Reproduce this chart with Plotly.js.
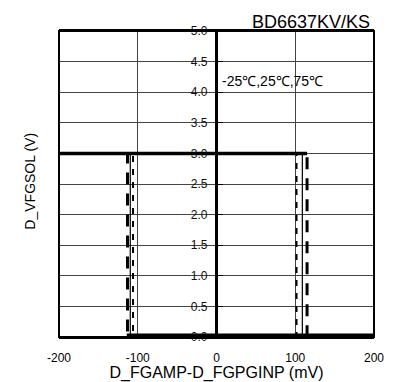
<!DOCTYPE html>
<html>
<head>
<meta charset="utf-8">
<script src="https://cdn.plot.ly/plotly-3.0.1.min.js"></script>
<style>html,body{margin:0;padding:0;background:#fff;}#chart{width:397px;height:382px;}</style>
</head>
<body>
<div id="chart"></div>
<script>
// Hysteresis sweeps (mV input, V output) for three temperatures
const xTicks = [-200, -100, 0, 100, 200];
const yTicks = [0.0, 0.5, 1.0, 1.5, 2.0, 2.5, 3.0, 3.5, 4.0, 4.5, 5.0];

// sweep up then (after null) sweep down
const sweepA_x = [-200, 109, 109, 200, null, 200, -109.5, -109.5, -200];
const sweepA_y = [3.0, 3.0, 0.0, 0.0, null, 0.0, 0.0, 3.0, 3.0];
const sweepB_x = [-200, 101.6, 101.6, 200, null, 200, -106, -106, -200];
const sweepB_y = [3.0, 3.0, 0.0, 0.0, null, 0.0, 0.0, 3.0, 3.0];
const sweepC_x = [-200, 115, 115, 200, null, 200, -113, -113, -200];
const sweepC_y = [3.0, 3.0, 0.0, 0.0, null, 0.0, 0.0, 3.0, 3.0];
// overlapping output levels (high from left edge to widest upper threshold, low from widest lower threshold)
const highLevel_x = [-200, 115];
const highLevel_y = [3.0, 3.0];
const lowLevel_x = [-114, 200];
const lowLevel_y = [0.0, 0.0];

const FONT = 'Liberation Sans, Arial, sans-serif';

const traces = [
  {x: sweepA_x, y: sweepA_y, mode: 'lines', line: {color: '#000', width: 1.2}, connectgaps: false, hoverinfo: 'skip'},
  {x: sweepB_x, y: sweepB_y, mode: 'lines', line: {color: '#000', width: 2, dash: '6px,7px'}, connectgaps: false, hoverinfo: 'skip'},
  {x: sweepC_x, y: sweepC_y, mode: 'lines', line: {color: '#000', width: 3, dash: '12px,9px'}, connectgaps: false, hoverinfo: 'skip'},
  {x: highLevel_x, y: highLevel_y, mode: 'lines', line: {color: '#000', width: 3.5}, hoverinfo: 'skip'},
  {x: lowLevel_x, y: lowLevel_y, mode: 'lines', line: {color: '#000', width: 7}, hoverinfo: 'skip'}
];

const layout = {
  width: 397, height: 382,
  margin: {l: 59, r: 23, t: 31, b: 45, pad: 0},
  paper_bgcolor: '#fff', plot_bgcolor: '#fff',
  showlegend: false,
  font: {family: FONT, color: '#000'},
  xaxis: {
    range: [-200, 200], tickvals: xTicks, ticktext: xTicks.map(String),
    showgrid: true, gridcolor: '#444', gridwidth: 1,
    zeroline: true, zerolinecolor: '#000', zerolinewidth: 2.5,
    showline: true, linecolor: '#000', linewidth: 2, mirror: true,
    ticks: '', tickfont: {size: 12, color: '#000', family: FONT},
    ticklabelstandoff: 9,
    title: {text: 'D_FGAMP-D_FGPGINP (mV)', font: {size: 16, family: FONT, color: '#000'}, standoff: 1},
    automargin: false, fixedrange: true
  },
  yaxis: {
    range: [0, 5], tickvals: yTicks, ticktext: yTicks.map(v => v.toFixed(1)),
    anchor: 'free', position: 0.5,
    showgrid: true, gridcolor: '#444', gridwidth: 1,
    zeroline: false, showline: false,
    ticks: 'inside', ticklen: 5, tickwidth: 1, tickcolor: '#000',
    tickfont: {size: 12, color: '#111', family: FONT},
    ticklabelstandoff: 9,
    automargin: false, fixedrange: true
  },
  shapes: [
    {type: 'rect', xref: 'paper', yref: 'paper', x0: 0, x1: 1, y0: 0, y1: 1, line: {color: '#000', width: 2}, layer: 'above'}
  ],
  annotations: [
    {text: 'D_VFGSOL (V)', xref: 'paper', yref: 'paper', x: -0.093, y: 0.51, textangle: -90, showarrow: false,
     xanchor: 'center', yanchor: 'middle', font: {size: 14, family: FONT, color: '#000'}},
    {text: 'BD6637KV/KS', xref: 'paper', yref: 'paper', x: 0.993, y: 1.028, showarrow: false,
     xanchor: 'right', yanchor: 'middle', font: {size: 18, family: FONT, color: '#000'}},
    {text: '-25℃,25℃,75℃', xref: 'x', yref: 'y', x: 5, y: 4.18, showarrow: false,
     xanchor: 'left', yanchor: 'middle', font: {size: 14, family: FONT, color: '#000'}}
  ]
};

Plotly.newPlot('chart', traces, layout, {staticPlot: true, displayModeBar: false}).then(function () {
  // place the x-axis title just below the tick labels, as in the reference
  var t = document.querySelector('.g-xtitle text');
  if (t) { t.setAttribute('y', 377); }
});
</script>
</body>
</html>
